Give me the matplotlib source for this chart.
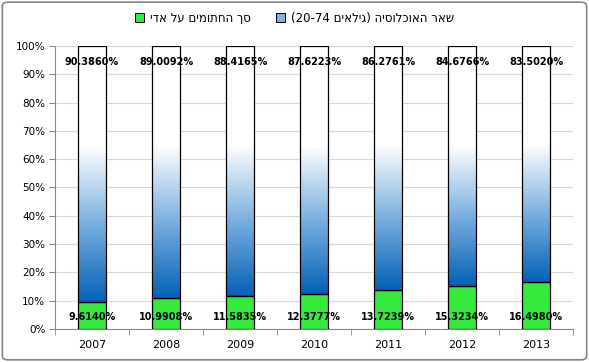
import re
import numpy as np
import matplotlib
matplotlib.use("Agg")
import matplotlib.pyplot as plt
from matplotlib.patches import Patch, FancyBboxPatch
from matplotlib.colors import LinearSegmentedColormap

years = ["2007", "2008", "2009", "2010", "2011", "2012", "2013"]
signed = [9.6140, 10.9908, 11.5835, 12.3777, 13.7239, 15.3234, 16.4980]
rest = [90.3860, 89.0092, 88.4165, 87.6223, 86.2761, 84.6766, 83.5020]
label_signed = "סך החתומים על אדי"
label_rest = "שאר האוכלוסיה (גילאים 20-74)"


def visual(s):
    # crude bidi: flip the line, put digit runs back, mirror brackets
    r = s[::-1]
    r = re.sub(r"[0-9][0-9.\-]*[0-9]", lambda m: m.group(0)[::-1], r)
    return r.translate(str.maketrans("()", ")("))


green = "#33ea3d"
blue_cmap = LinearSegmentedColormap.from_list(
    "bl", [(0, "#0462b6"), (0.45, "#6ea8dc"), (1, "#ffffff")])

fig = plt.figure(figsize=(5.89, 3.62), dpi=100)
ax = fig.add_axes([0.0934, 0.0912, 0.8794, 0.7818])

x = np.arange(len(years))
w = 0.39
ax.bar(x, signed, w, color=green, edgecolor="black", linewidth=0.9, zorder=3)

white_from = 65.0
for xi, b, r in zip(x, signed, rest):
    top = b + r
    yy = np.linspace(b, top, 300)
    t = np.clip((yy - b) / (white_from - b), 0, 1)
    ax.imshow(t[:, None], cmap=blue_cmap, vmin=0, vmax=1, origin="lower",
              extent=[xi - w / 2, xi + w / 2, b, top], aspect="auto",
              interpolation="bilinear", zorder=2)
    ax.bar(xi, r, w, bottom=b, facecolor="none", edgecolor="black",
           linewidth=0.9, zorder=3)
    ax.text(xi, 94.3, f"{r:.4f}%", ha="center", va="center", fontsize=7,
            fontweight="bold", zorder=4)
    ax.text(xi, 4.3, f"{b:.4f}%", ha="center", va="center", fontsize=7,
            fontweight="bold", zorder=4)

ax.set_xlim(-0.5, len(years) - 0.5)
ax.set_ylim(0, 100)
ax.set_yticks(np.arange(0, 101, 10))
ax.set_yticklabels([f"{v}%" for v in range(0, 101, 10)], fontsize=7.5)
ax.set_xticks(x)
ax.set_xticklabels(years, fontsize=8)
ax.set_xticks(np.arange(-0.5, len(years)), minor=True)
ax.tick_params(axis="x", which="major", length=0, pad=8)
ax.tick_params(axis="x", which="minor", length=4, color="#888888")
ax.tick_params(axis="y", length=4, color="#888888", pad=3)
ax.grid(axis="y", color="#d9d9d9", linewidth=0.8, zorder=0)
ax.set_axisbelow(True)
for s in ["top", "right"]:
    ax.spines[s].set_visible(False)
for s in ["left", "bottom"]:
    ax.spines[s].set_color("#888888")

handles = [Patch(facecolor=green, edgecolor="black", linewidth=0.7),
           Patch(facecolor="#7fb2e2", edgecolor="black", linewidth=0.7)]
fig.legend(handles, [visual(label_signed), visual(label_rest)],
           loc="center", bbox_to_anchor=(0.5, 0.95), ncol=2, frameon=False,
           fontsize=8.5, handlelength=0.75, handleheight=0.75,
           handletextpad=0.5, columnspacing=2.2)

fig.patches.append(FancyBboxPatch((0.004, 0.006), 0.992, 0.988,
                                  boxstyle="round,pad=0,rounding_size=0.01",
                                  transform=fig.transFigure, fill=False,
                                  edgecolor="#868686", linewidth=1.2))

fig.savefig("out.png", dpi=100)
